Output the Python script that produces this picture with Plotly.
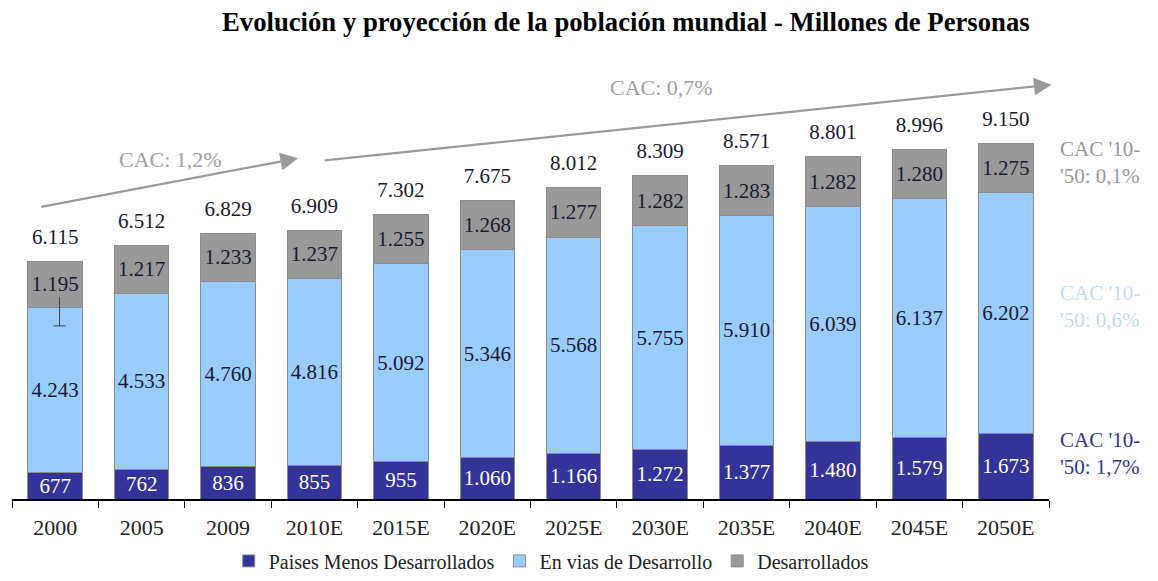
import plotly.graph_objects as go

years = ["2000", "2005", "2009", "2010E", "2015E", "2020E", "2025E", "2030E",
         "2035E", "2040E", "2045E", "2050E"]
menos_desarrollados = [677, 762, 836, 855, 955, 1060, 1166, 1272, 1377, 1480, 1579, 1673]
en_vias = [4243, 4533, 4760, 4816, 5092, 5346, 5568, 5755, 5910, 6039, 6137, 6202]
desarrollados = [1195, 1217, 1233, 1237, 1255, 1268, 1277, 1282, 1283, 1282, 1280, 1275]
totales = [6115, 6512, 6829, 6909, 7302, 7675, 8012, 8309, 8571, 8801, 8996, 9150]

cac_labels = ["CAC '10-<br>'50: 0,1%", "CAC '10-<br>'50: 0,6%", "CAC '10-<br>'50: 1,7%"]

NAVY = "#333399"
LIGHT = "#99ccff"
GRAY = "#999999"
SERIF = "Liberation Serif"

# la página tiene 8px de margen, así que la figura es algo menor que la ventana
W, H = 1142, 565


def fmt(v):
    # miles con punto
    return f"{v:,}".replace(",", ".")


fig = go.Figure()
series = [
    ("Paises Menos Desarrollados", menos_desarrollados, NAVY, "white"),
    ("En vias de Desarrollo", en_vias, LIGHT, "#1a1a2e"),
    ("Desarrollados", desarrollados, GRAY, "#1a1a2e"),
]
for name, vals, color, txtcol in series:
    fig.add_trace(go.Bar(
        x=years, y=vals, name=name,
        marker=dict(color=color, line=dict(color="#8c8c8c", width=1)),
        text=[fmt(v) for v in vals], textposition="inside",
        insidetextanchor="middle", constraintext="none",
        textfont=dict(family=SERIF, size=21, color=txtcol),
        width=0.63,
    ))

# totales encima de cada barra (marcador invisible para separar el texto)
fig.add_trace(go.Scatter(
    x=years, y=totales, mode="markers+text", text=[fmt(v) for v in totales],
    textposition="top center", showlegend=False, cliponaxis=False,
    marker=dict(size=18, opacity=0),
    textfont=dict(family=SERIF, size=21, color="#1a1a2e"),
))

ymax = 11285
arrow = dict(xref="x", yref="y", axref="x", ayref="y", showarrow=True,
             arrowhead=2, arrowsize=1.6, arrowwidth=2.2, arrowcolor="#9a9a9a", text="")
fig.add_annotation(x=2.81, y=8760, ax=-0.18, ay=7500, **arrow)
fig.add_annotation(x=11.53, y=10650, ax=3.10, ay=8700, **arrow)
fig.add_annotation(x=1.33, y=8720, xref="x", yref="y", text="CAC: 1,2%", showarrow=False,
                   font=dict(family=SERIF, size=22, color="#a0a0a0"))
fig.add_annotation(x=7.02, y=10570, xref="x", yref="y", text="CAC: 0,7%", showarrow=False,
                   font=dict(family=SERIF, size=22, color="#a0a0a0"))

for lab, col, yc in zip(cac_labels, [GRAY, "#c2dbf3", NAVY], [8650, 4950, 1170]):
    fig.add_annotation(x=1.0, xanchor="left", xshift=9, xref="paper", y=yc, yref="y",
                       text=lab, showarrow=False, align="left",
                       font=dict(family=SERIF, size=21, color=col))

# pequeña marca en la barra de 2000
fig.add_shape(type="line", xref="x", yref="y", x0=0.05, x1=0.05, y0=5190, y1=4450,
              line=dict(color="#444", width=1))
fig.add_shape(type="line", xref="x", yref="y", x0=-0.02, x1=0.12, y0=4450, y1=4450,
              line=dict(color="#444", width=1))

fig.update_layout(
    template="none",
    width=W, height=H,
    margin=dict(l=4, r=101, t=52, b=74, autoexpand=False),
    paper_bgcolor="white", plot_bgcolor="white",
    barmode="stack",
    hovermode=False,
    title=dict(text="<b>Evolución y proyección de la población mundial - Millones de Personas</b>",
               x=0.541, xanchor="center", y=0.975, yanchor="middle",
               font=dict(family=SERIF, size=26.7, color="black")),
    xaxis=dict(range=[-0.5, 11.5], showline=True, linecolor="black", linewidth=1.5,
               ticks="outside", tickson="boundaries", ticklen=7, tickcolor="black",
               ticklabelstandoff=8,
               automargin=False, tickfont=dict(family=SERIF, size=22, color="#222"),
               showgrid=False),
    yaxis=dict(range=[0, ymax], visible=False, showgrid=False, automargin=False),
    legend=dict(orientation="h", x=0.52, xanchor="center", y=-0.141, yanchor="middle",
                font=dict(family=SERIF, size=20, color="#222"), traceorder="normal",
                itemwidth=30),
    showlegend=True,
)

fig.write_html("out.html")
